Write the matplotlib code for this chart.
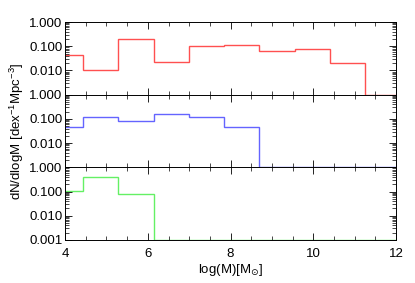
import matplotlib
matplotlib.use("Agg")
import matplotlib.pyplot as plt
from matplotlib.ticker import MultipleLocator, LogLocator, FixedLocator, NullFormatter

plt.rcParams["font.family"] = ["Liberation Sans", "DejaVu Sans"]
plt.rcParams["mathtext.fontset"] = "custom"
plt.rcParams["mathtext.rm"] = "Liberation Sans"
plt.rcParams["mathtext.sf"] = "DejaVu Sans"

# bin edges in log(M)
edges = [3.58, 4.43, 5.29, 6.14, 6.99, 7.84, 8.69, 9.55, 10.40, 11.25, 12.10]

# dN/dlogM per bin (floor 0.001 = empty)
red_vals = [0.042, 0.0103, 0.195, 0.0215, 0.098, 0.11, 0.066, 0.075, 0.021, 0.001]
blue_vals = [0.048, 0.118, 0.08, 0.167, 0.118, 0.048, 0.001, 0.001, 0.001, 0.001]
green_vals = [0.106, 0.41, 0.083, 0.001, 0.001, 0.001, 0.001, 0.001, 0.001, 0.001]

series = [(red_vals, "#ff5050"), (blue_vals, "#6464ff"), (green_vals, "#64f064")]
ytick_sets = [[1.0, 0.1, 0.01], [1.0, 0.1, 0.01], [1.0, 0.1, 0.01, 0.001]]

fig = plt.figure(figsize=(4.15, 2.83), dpi=100)
left, right, bottom, top = 0.157, 0.954, 0.152, 0.922
h = (top - bottom) / 3

axes = []
for i, ((vals, color), yt) in enumerate(zip(series, ytick_sets)):
    ax = fig.add_axes([left, top - (i + 1) * h, right - left, h])
    ax.stairs(vals, edges, color=color, linewidth=1.0, baseline=None)
    ax.set_yscale("log")
    ax.set_ylim(0.001, 1.0)
    ax.set_xlim(4, 12)
    ax.yaxis.set_major_locator(FixedLocator(yt))
    ax.set_yticklabels(["%.3f" % v for v in yt])
    ax.yaxis.set_minor_locator(LogLocator(base=10, subs=range(2, 10)))
    ax.yaxis.set_minor_formatter(NullFormatter())
    ax.xaxis.set_major_locator(MultipleLocator(2))
    ax.xaxis.set_minor_locator(MultipleLocator(0.5))
    ax.tick_params(which="both", direction="in", top=True, right=True, labelsize=9.5)
    ax.tick_params(axis="y", pad=2)
    ax.tick_params(axis="x", pad=6)
    ax.tick_params(which="major", length=5, width=0.6)
    ax.tick_params(which="minor", length=3, width=0.5)
    for s in ax.spines.values():
        s.set_linewidth(0.7)
    if i < 2:
        ax.tick_params(labelbottom=False)
    axes.append(ax)

axes[2].set_xlabel(r"log(M)[M$_{\mathsf{\odot}}$]", fontsize=9.5, labelpad=1)
fig.text(0.04, (top + bottom) / 2, r"dN/dlogM [dex$^{-1}$Mpc$^{-3}$]",
         rotation=90, va="center", ha="center", fontsize=9.5)

fig.savefig("out.png", dpi=100)
